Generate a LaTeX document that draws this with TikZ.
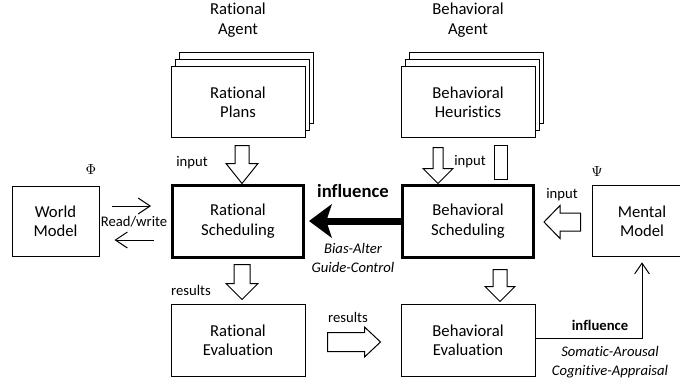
\documentclass[tikz,border=0pt]{standalone}
\usepackage{fontspec}
\setmainfont{Carlito}[Ligatures=NoCommon]
\usetikzlibrary{arrows.meta}
\newcommand{\bxf}       {\fontsize{12.5}{14.5}\selectfont}
\newcommand{\lbf}       {\fontsize{11}{14.3}\selectfont}
% hollow block arrows: #1 tail, #2 tip, #3 half shaft, #4 half head, #5 head offset
\newcommand{\blkv}[5]{\draw[blk] ([shift={(-#3,0)}]#1) -- ([shift={(-#3,#5)}]#2) -- ([shift={(-#4,#5)}]#2) -- (#2) -- ([shift={(#4,#5)}]#2) -- ([shift={(#3,#5)}]#2) -- ([shift={(#3,0)}]#1) -- cycle;}
\newcommand{\blkh}[5]{\draw[blk] ([shift={(0,-#3)}]#1) -- ([shift={(#5,-#3)}]#2) -- ([shift={(#5,-#4)}]#2) -- (#2) -- ([shift={(#5,#4)}]#2) -- ([shift={(#5,#3)}]#2) -- ([shift={(0,#3)}]#1) -- cycle;}

\begin{document}
\begin{tikzpicture}[x=0.75pt,y=-0.75pt,
   box/.style={draw,fill=white,line width=0.75pt,align=center,font=\bxf,inner sep=0pt,
               minimum width=100.5pt,minimum height=52.5pt},
   bold box/.style={box,line width=2.25pt,minimum width=98.25pt,minimum height=54pt},
   lbl/.style={font=\lbf,inner sep=0pt},
   blk/.style={draw,fill=white,line width=0.75pt},
   barb/.style={line width=0.75pt,-{Straight Barb[length=9pt,width=12pt]}}]
   \useasboundingbox (0,0) rectangle (680,381);
   \clip (0,0) rectangle (680,381);
   % agents and their stacks
   \node[align=center,font=\bxf] (agentR) at (238,20) {Rational\\Agent};
   \node[align=center,font=\bxf] (agentB) at (468,20) {Behavioral\\Agent};
   \node[box] (plansR3) at (246,88) {};
   \node[box] (plansR2) at (242,95) {};
   \node[box] (plansR)  at (238,102) {Rational\\Plans};
   \node[box] (heurB3)  at (476,88) {};
   \node[box] (heurB2)  at (472,95) {};
   \node[box] (heurB)   at (468,102) {Behavioral\\Heuristics};
   % middle row
   \node[box,minimum width=65.25pt] (world) at (55.5,221) {World\\Model};
   \node[bold box] (schedR) at (238,221) {Rational\\Scheduling};
   \node[bold box] (schedB) at (468,221) {Behavioral\\Scheduling};
   \node[box,minimum width=75pt,minimum height=53.25pt] (mental) at (642,221) {Mental\\Model};
   \node[lbl] (phi) at (91,170) {$\Phi$};
   \node[lbl] (psi) at (597,172) {$\Psi$};
   % bottom row
   \node[box,minimum height=54pt] (evalR) at (238,340) {Rational\\Evaluation};
   \node[box,minimum height=54pt] (evalB) at (468,340) {Behavioral\\Evaluation};
   % block arrows
   \coordinate (inR1) at ([shift={(4,8)}]plansR.south);
   \coordinate (inR2) at ([shift={(4,0)}]schedR.north);
   \blkv{inR1}{inR2}{7}{16}{-20}
   \coordinate (resR1) at ([shift={(4,6)}]schedR.south);
   \coordinate (resR2) at ([shift={(4,-4)}]evalR.north);
   \blkv{resR1}{resR2}{8}{16}{-16}
   \coordinate (inB1) at ([shift={(-30,10)}]heurB.south);
   \coordinate (inB2) at ([shift={(-30,0)}]schedB.north);
   \blkv{inB1}{inB2}{5}{15}{-15}
   \draw[blk] ([shift={(26,8)}]heurB.south) rectangle ([shift={(39,-4)}]schedB.north);
   \coordinate (resB1) at ([shift={(32,11)}]schedB.south);
   \coordinate (resB2) at ([shift={(32,-2)}]evalB.north);
   \blkv{resB1}{resB2}{7}{15}{-15}
   \coordinate (inM1) at ([shift={(-11,1)}]mental.west);
   \coordinate (inM2) at ([shift={(9,1)}]schedB.east);
   \blkh{inM1}{inM2}{9}{16.5}{16}
   \coordinate (resE1) at ([shift={(22,2)}]evalR.east);
   \coordinate (resE2) at ([shift={(-20,2)}]evalB.west);
   \blkh{resE1}{resE2}{9.5}{15}{-16}
   % line arrows
   \draw[barb] ([shift={(12,-15)}]world.east) -- ([shift={(-20,-15)}]schedR.west);
   \draw[barb] ([shift={(-17,19)}]schedR.west) -- ([shift={(15,19)}]world.east);
   \draw[line width=5.25pt,-{Stealth[length=17pt,width=25pt,inset=4pt]}]
      (schedB.west) -- ([xshift=3pt]schedR.east);
   \draw[line width=0.75pt,-{Straight Barb[length=8pt,width=11pt]}]
      ([yshift=1.5pt]evalB.east) -| ([yshift=-4pt]mental.south);
   % labels
   \node[lbl] (inRlbl)  at (192,163) {input};
   \node[lbl] (inBlbl)  at (470,162) {input};
   \node[lbl] (inMlbl)  at (562,195) {input};
   \node[lbl] (resRlbl) at (191,290) {results};
   \node[lbl] (resElbl) at (348,317) {results};
   \node[lbl] (rwlbl)   at (134,222) {Read/write};
   \node[inner sep=0pt,font=\fontsize{14}{16}\selectfont\bfseries] (inflR) at (353,191) {influence};
   \node[lbl,align=center,font=\lbf\itshape] (biasR) at (353,258) {Bias-Alter\\Guide-Control};
   \node[lbl,font=\lbf\bfseries] (inflM) at (600,325) {influence};
   \node[lbl,align=center,font=\lbf\itshape] (somM) at (610,362) {Somatic-Arousal\\Cognitive-Appraisal};
\end{tikzpicture}
\end{document}
